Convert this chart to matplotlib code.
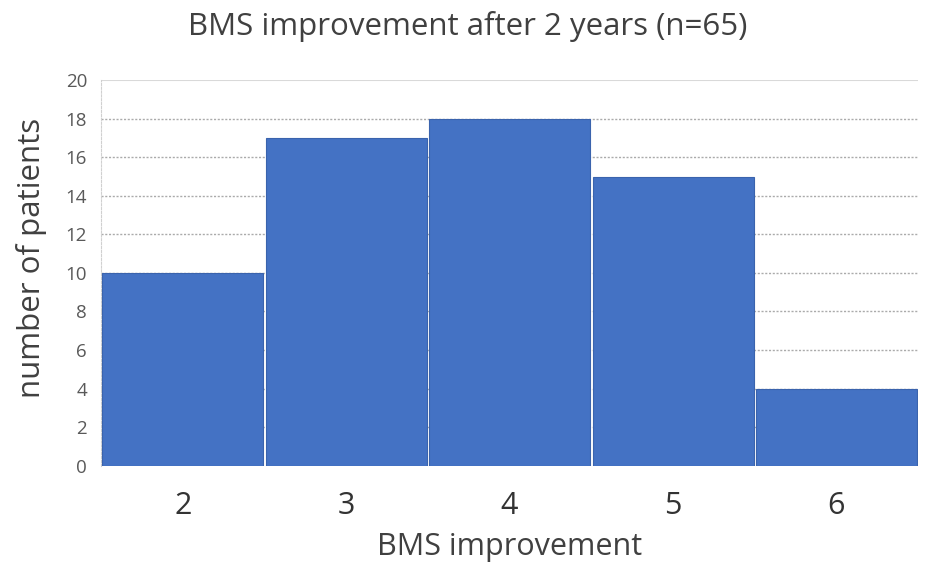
import matplotlib
matplotlib.use("Agg")
import matplotlib.pyplot as plt

# BMS improvement histogram (n=65)
improvement = [2, 3, 4, 5, 6]
patients = [10, 17, 18, 15, 4]
y_ticks = list(range(0, 21, 2))

plt.rcParams["font.family"] = ["Open Sans", "DejaVu Sans"]

fig = plt.figure(figsize=(9.35, 5.68), dpi=100)
ax = fig.add_axes([0.108, 0.180, 0.874, 0.679])

ax.bar(improvement, patients, width=0.985, color="#4472C4",
       edgecolor="#3A63AD", linewidth=0.8, zorder=3)

ax.set_xlim(1.5, 6.5)
ax.set_ylim(0, 20)
ax.set_yticks(y_ticks)
ax.set_xticks(improvement)
ax.set_xticklabels([str(v) for v in improvement], fontsize=22, color="#333333")
ax.tick_params(axis="y", labelsize=13.5, labelcolor="#595959", length=0, pad=10)
ax.tick_params(axis="x", length=0, pad=18)

# dashed gridlines, solid top line
for y in y_ticks[1:-1]:
    ax.axhline(y, color="#ABABAB", linestyle=(0, (1.5, 1.2)), linewidth=1.0, zorder=1)
ax.axhline(20, color="#D9D9D9", linewidth=1.5, zorder=1)

for side in ["top", "right", "bottom"]:
    ax.spines[side].set_visible(False)
ax.spines["left"].set_color("#D0D0D0")
ax.spines["left"].set_linestyle((0, (2, 1.5)))
ax.spines["left"].set_linewidth(0.8)

ax.set_xlabel("BMS improvement", fontsize=22, color="#404040", labelpad=8)
ax.set_ylabel("number of patients", fontsize=22.5, color="#404040")
ax.yaxis.set_label_coords(-0.066, 0.54)
fig.suptitle("BMS improvement after 2 years (n=65)", fontsize=22.5, color="#404040",
             y=0.98)

fig.savefig("out.png", dpi=100)
